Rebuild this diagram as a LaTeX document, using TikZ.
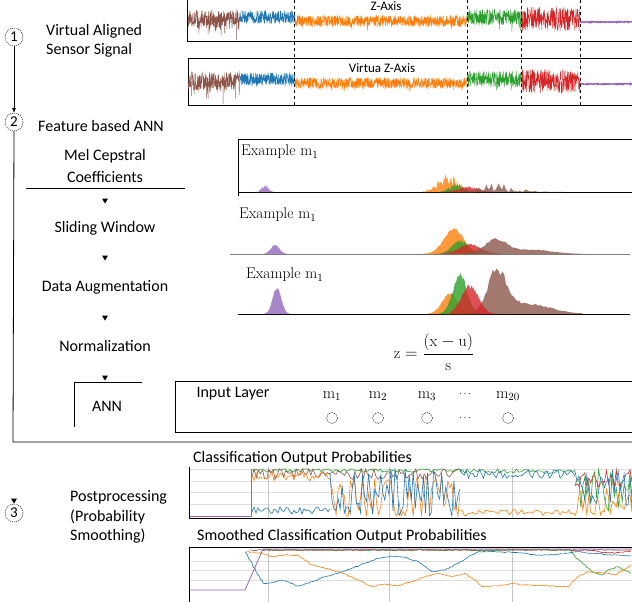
\documentclass[tikz,border=0pt]{standalone}
\usepackage{fontspec}
\newfontfamily\cali{Carlito}
\usetikzlibrary{arrows.meta,decorations.pathmorphing}
\definecolor{tblue}{HTML}{1F77B4}
\definecolor{torange}{HTML}{FF7F0E}
\definecolor{tgreen}{HTML}{2CA02C}
\definecolor{tred}{HTML}{D62728}
\definecolor{tpurple}{HTML}{9467BD}
\definecolor{tbrown}{HTML}{8C564B}
\newcommand\hst[5]{\fill[#1,opacity=.8] (#2,#4) -- plot[domain=#2:#3,samples=60] (\x,{#4-(#5)}) -- (#3,#4) -- cycle;}
\newcommand\nz[6]{\draw[#1,line width=.6pt] plot[domain=#2:#3,samples=#6] (\x,{516-47*min(1,max(0,#4+#5*rand))});}
\begin{document}
\begin{tikzpicture}[x=1pt,y=-1pt,
  lbl/.style={font=\cali\fontsize{16}{19.5}\selectfont, inner sep=0},
  small/.style={font=\cali\fontsize{13}{15}\selectfont, inner sep=0},
  ex/.style={font=\fontsize{15.5}{17}\selectfont, inner sep=0, anchor=west},
  stepc/.style={circle, draw, dash pattern=on 1.2pt off 0.9pt, minimum size=18pt, inner sep=0, font=\cali\fontsize{15}{17}\selectfont},
  downtri/.pic={\fill (-3,-2.5) -- (3,-2.5) -- (0,2.5) -- cycle;},
  grid/.style={gray!25, line width=.5pt},
  vgrid/.style={gray!45, line width=.6pt},
  sig/.style={line width=.4pt},
  wig/.style={decorate, decoration={random steps, segment length=2pt, amplitude=0.5pt}, line width=.6pt}]
\useasboundingbox (0,0) rectangle (632,602);
\pgfmathsetseed{42}

% ---------- step 1 ----------
\node[stepc] (c1) at (14,37) {1};
\node[lbl, anchor=west, align=left] (vas) at (46,41) {Virtual Aligned\\Sensor Signal};
\node[stepc] (c2) at (14,122) {2};
\draw[-{Latex[length=5pt,width=4pt]}, line width=.5pt] (c1) -- (c2);
\node[lbl, anchor=west] (fba) at (38,126) {Feature based ANN};

% signal boxes
\draw[line width=.8pt] (187,-3) rectangle (640,41);
\draw[line width=.8pt] (188,58) rectangle (640,105);
\foreach \cy in {19,81} {
  \draw[tbrown, sig] plot[domain=188:240,samples=260] (\x,{\cy+9*rand+16*rnd^14});
  \draw[tblue, sig] plot[domain=240:295,samples=280] (\x,{\cy-2+6.5*rand});
  \draw[torange, sig] plot[domain=295:467,samples=860] (\x,{\cy+2+5.5*rand+5*rnd^40});
  \draw[tgreen, sig] plot[domain=467:522,samples=280] (\x,{\cy-2+8*rand+9*rnd^25});
  \draw[tred, sig] plot[domain=522:580,samples=290] (\x,{\cy+12*rand});
  \draw[tpurple, line width=1.4pt] plot[domain=580:632,samples=100] (\x,{\cy+3+0.5*rand});
}
\foreach \vx in {294,467,521,580} \draw[dashed, line width=.6pt] (\vx,0) -- (\vx,105);
\node[small] (za) at (386,6) {Z-Axis};
\node[small] (vza) at (382,68) {Virtua Z-Axis};

% ---------- step 2 pipeline ----------
\draw[line width=.8pt] (c2.south) -- (13,442) -- (632.5,442);
\node[lbl, align=center, font=\cali\fontsize{16}{22}\selectfont] (mel) at (105,166) {Mel Cepstral\\Coefficients};
\draw[line width=.7pt] (26,188) -- (185,188);
\pic at (105,201) {downtri};
\node[lbl] (sw) at (105,228) {Sliding Window};
\pic at (105,258) {downtri};
\node[lbl] (da) at (105,287) {Data Augmentation};
\pic at (105,318) {downtri};
\node[lbl] (nm) at (105,346) {Normalization};
\pic at (105,378) {downtri};
\draw[line width=.7pt] (142,382) -- (74,382) -- (74,427);
\node[lbl] (ann) at (107,406) {ANN};

% histogram panels
\draw[line width=.8pt] (238,196) -- (238,139) -- (633,139);
\draw[line width=.8pt] (238,192) -- (632,192);
\node[ex] (ex1) at (241,152) {Example $\mathrm{m}_1$};
\hst{tpurple}{256}{274}{192}{8*exp(0-((\x-265)/5)^2)*rnd}
\hst{torange}{423}{476}{192}{20*exp(0-((\x-448)/14)^2)*(0.3+0.7*rnd)}
\hst{tgreen}{440}{470}{192}{9*exp(0-((\x-456)/9)^2)*(0.4+0.6*rnd)}
\hst{tred}{445}{492}{192}{6*exp(0-((\x-468)/14)^2)*(0.5+0.5*rnd)}
\hst{tbrown}{462}{565}{192}{9*exp(0-((\x-495)/30)^2)*rnd^1.5}

\draw[gray, line width=.7pt] (230,254) -- (630,254);
\node[ex] (ex2) at (239,215) {Example $\mathrm{m}_1$};
\hst{tpurple}{262}{288}{254}{10*exp(0-((\x-275)/6)^2)*(0.8+0.2*rnd)}
\hst{torange}{423}{478}{254}{27*exp(0-((\x-454)/14)^2)*(0.85+0.15*rnd)}
\hst{tgreen}{435}{478}{254}{15*exp(0-((\x-460)/11)^2)*(0.8+0.2*rnd)}
\hst{tred}{440}{502}{254}{10*exp(0-((\x-470)/16)^2)*(0.8+0.2*rnd)}
\hst{tbrown}{462}{585}{254}{(15*exp(0-((\x-495)/16)^2)+5*exp(0-((\x-530)/30)^2))*(0.75+0.25*rnd)}

\draw[line width=.8pt] (238,314) -- (630,314);
\node[ex] (ex3) at (246,275) {Example $\mathrm{m}_1$};
\hst{tpurple}{263}{290}{314}{28*exp(0-((\x-277)/6)^2)*(0.85+0.15*rnd)}
\hst{torange}{427}{468}{314}{22*exp(0-((\x-450)/11)^2)*(0.85+0.15*rnd)}
\hst{tbrown}{470}{582}{314}{(44*exp(0-((\x-497)/13)^2)+11*exp(0-((\x-525)/35)^2))*(0.8+0.2*rnd)}
\hst{tgreen}{437}{478}{314}{42*exp(0-((\x-460)/10)^2)*(0.85+0.15*rnd)}
\hst{tred}{450}{497}{314}{30*exp(0-((\x-470)/12)^2)*(0.85+0.15*rnd)}

% normalization formula
\node[inner sep=0, font=\fontsize{16}{18}\selectfont] (form) at (434,352) {$\displaystyle \mathrm{z}=\frac{(\mathrm{x}-\mathrm{u})}{\mathrm{s}}$};

% input layer
\draw[line width=.8pt] (633,381) -- (175,381) -- (175,432) -- (633,432);
\node[lbl] (il) at (233,394) {Input Layer};
\foreach \mx/\ml/\nm in {332/1/a,378/2/b,427/3/c,508/20/d} {
  \node[inner sep=0, font=\fontsize{16}{18}\selectfont] (m\nm) at (\mx,396) {$\mathrm{m}_{\ml}$};
  \node[circle, draw, dash pattern=on 1pt off 0.8pt, minimum size=11pt, inner sep=0, line width=.4pt] (n\nm) at (\mx,418) {};
}
\node[inner sep=0] (d1) at (465,394) {$\cdots$};
\node[inner sep=0] (d2) at (465,418) {$\cdots$};

% ---------- step 3 ----------
\pic at (14,501) {downtri};
\node[stepc] (c3) at (14,513) {3};
\node[lbl, anchor=west, align=left] (pp) at (70,517) {Postprocessing\\(Probability\\Smoothing)};

\node[lbl, anchor=west] (cop) at (193,458) {Classification Output Probabilities};
\begin{scope}
\clip (189,467) rectangle (632,518);
\foreach \gy in {469,480.75,492.5,504.25} \draw[grid] (189,\gy) -- (632,\gy);
\foreach \gx in {268,389,512} \draw[vgrid] (\gx,467) -- (\gx,518);
\nz{tgreen}{252}{460}{0.97}{0.04}{100}
\nz{tgreen}{460}{575}{0.95}{0.05}{50}
\nz{tgreen}{575}{632}{0.55}{0.45}{30}
\nz{tbrown}{252}{460}{0.9}{0.12}{100}
\nz{tred}{575}{632}{0.8}{0.2}{30}
\nz{torange}{252}{330}{0.85}{0.1}{40}
\nz{torange}{330}{460}{0.4}{0.45}{65}
\nz{torange}{460}{575}{0.07}{0.07}{55}
\nz{torange}{575}{632}{0.3}{0.3}{30}
\nz{tblue}{252}{330}{0.12}{0.08}{40}
\nz{tblue}{330}{460}{0.5}{0.5}{65}
\nz{tblue}{460}{575}{0.9}{0.1}{55}
\nz{tblue}{575}{632}{0.6}{0.4}{30}
\draw[tpurple, line width=.8pt] (189,516) -- (251,516) -- (251,469);
\end{scope}
\draw[line width=.8pt] (189,467) -- (189,518) -- (632,518);

\node[lbl, anchor=west] (scop) at (197,536) {Smoothed Classification Output Probabilities};
\begin{scope}
\clip (189,547) rectangle (632,602);
\foreach \gy in {560.75,570.5,580.25} \draw[grid] (189,\gy) -- (632,\gy);
\foreach \gx in {268,389,512} \draw[vgrid] (\gx,547) -- (\gx,602);
\draw[tbrown, wig] (250,550) -- (631,550);
\draw[tred, wig] (263,550) -- (590,550) -- (600,552) -- (615,553) -- (631,551);
\draw[tgreen, wig] (263,550) -- (570,550) -- (575,556.7) -- (585,565) -- (591.7,571.7) -- (601.7,575) -- (608.3,570) -- (618.3,566.7) -- (631,573.3);
\draw[torange, wig] (246.7,551.7) -- (261.7,553.3) -- (271.7,556.7) -- (285,555) -- (298.3,555) -- (311.7,565) -- (325,568.3) -- (338.3,571.7) -- (351.7,576.7) -- (365,583.3) -- (371.7,586.7) -- (385,584) -- (398.3,585.7) -- (411.7,581.7) -- (425,576.7) -- (438.3,573.3) -- (451.7,576.7) -- (465,573.3) -- (475,580) -- (481.7,586.7) -- (498.3,586) -- (511.7,583.3) -- (525,585) -- (545,585.7) -- (568.3,586.7) -- (578.3,576.7) -- (588.3,571.7) -- (601.7,572.7) -- (615,575) -- (631,565);
\draw[tblue, wig] (245,551.7) -- (263.3,583.3) -- (271.7,582.7) -- (281.7,580) -- (298.3,586) -- (311.7,581.7) -- (325,576.7) -- (338.3,573.3) -- (351.7,568.3) -- (365,563.3) -- (378.3,558.3) -- (391.7,556) -- (405,557.3) -- (418.3,561.7) -- (431.7,571.7) -- (445,570) -- (458.3,563.3) -- (471.7,555) -- (478.3,551.7) -- (498.3,551.7) -- (518.3,552.7) -- (538.3,555) -- (558.3,554.3) -- (578.3,551.7) -- (591.7,553.3) -- (611.7,555) -- (631,556);
\draw[tpurple, line width=.8pt] (189,590) -- (245,590) -- (263,549) -- (632,549);
\end{scope}
\draw[line width=.8pt] (189,603) -- (189,547) -- (633,547);
\end{tikzpicture}
\end{document}
